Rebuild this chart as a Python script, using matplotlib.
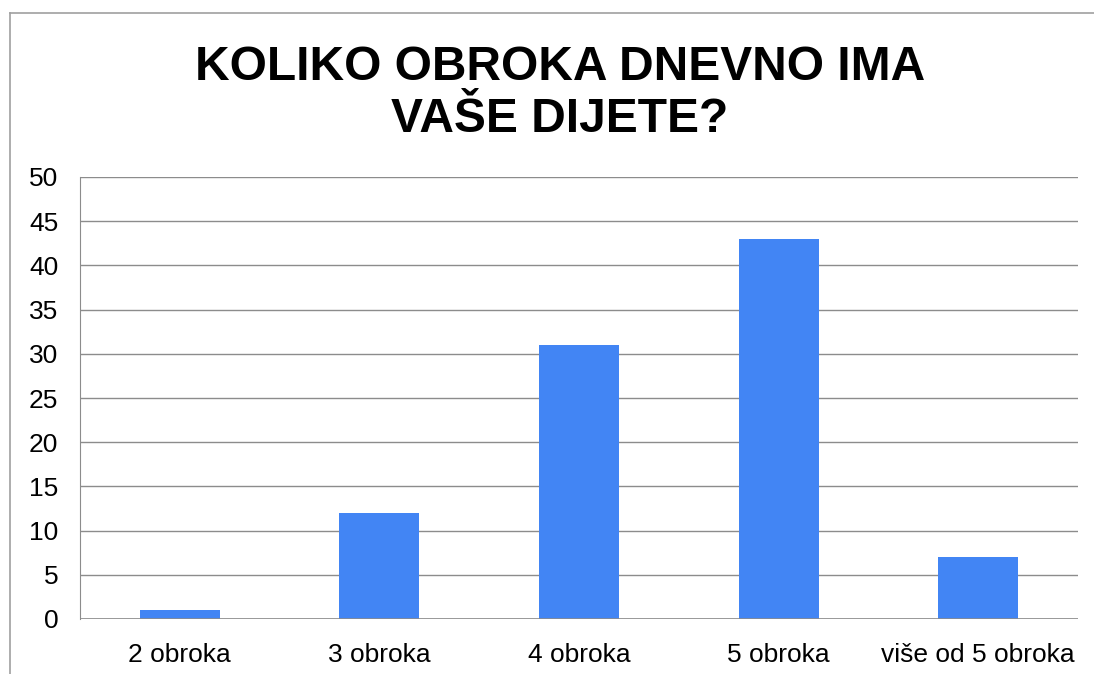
import matplotlib
matplotlib.use("Agg")
import matplotlib.pyplot as plt
from matplotlib.lines import Line2D

categories = ["2 obroka", "3 obroka", "4 obroka", "5 obroka", "više od 5 obroka"]
counts = [1, 12, 31, 43, 7]
yticks = list(range(0, 51, 5))

plt.rcParams["font.family"] = ["Liberation Sans", "DejaVu Sans"]

fig = plt.figure(figsize=(10.94, 6.74), dpi=100)
ax = fig.add_axes([80 / 1094, 55 / 674, 998 / 1094, 442 / 674])

x = range(len(categories))
ax.bar(x, counts, width=0.4, color="#4285f4", zorder=3)
ax.set_xlim(-0.5, len(categories) - 0.5)
ax.set_ylim(0, 50)
ax.set_yticks(yticks)
ax.set_xticks(list(x))
ax.set_xticklabels(categories)
ax.tick_params(axis="both", length=0, labelsize=19)
ax.tick_params(axis="y", pad=15.5)
ax.tick_params(axis="x", pad=17.5)
ax.yaxis.grid(True, color="#8c8c8c", lw=1, zorder=0)
for s in ["top", "right", "bottom"]:
    ax.spines[s].set_visible(False)
ax.spines["left"].set_color("#8c8c8c")
ax.axhline(0, color="#8c8c8c", lw=1.2, zorder=4)

# outer chart border (left and top visible)
fig.add_artist(Line2D([10 / 1094, 10 / 1094], [0, 1 - 13 / 674], transform=fig.transFigure, color="#a0a0a0", lw=1.2))
fig.add_artist(Line2D([10 / 1094, 1], [1 - 13 / 674, 1 - 13 / 674], transform=fig.transFigure, color="#a0a0a0", lw=1.2))

fig.text(560 / 1094, 1 - 93 / 674, "KOLIKO OBROKA DNEVNO IMA\nVAŠE DIJETE?", ha="center", va="center",
         fontsize=34.5, fontweight="bold", linespacing=1.2)

fig.savefig("out.png", dpi=100)
